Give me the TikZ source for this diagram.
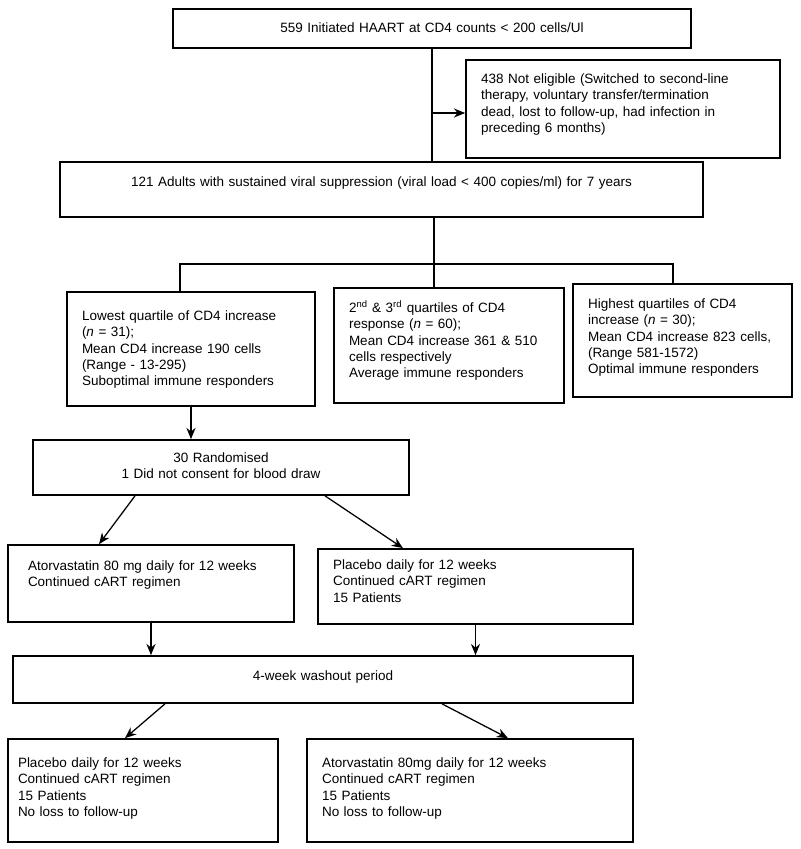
\documentclass[tikz,border=0pt]{standalone}
\usepackage{fontspec}
\setmainfont{Liberation Sans}
\usetikzlibrary{arrows.meta}
\begin{document}
\begin{tikzpicture}[
    box/.style={draw=black,line width=1.2pt,inner xsep=0.375cm,inner ysep=0pt,align=left,font=\fontsize{9.6}{11.6}\selectfont},
    >={Stealth[length=8pt,width=6.5pt]},
    line width=0.9pt]
    \useasboundingbox (0,0) rectangle (20,-21.225);
    \node[box,align=center,text width=12.2cm,text height=0.5875cm,text depth=0.3875cm] (initiated) at (10.8,-0.7125) {559 Initiated HAART at CD4 counts < 200 cells/Ul};
    \node[box,text width=7.1cm,text height=0.5875cm,text depth=1.8625cm] (ineligible) at (15.575,-2.725) {438 Not eligible (Switched to second-line\\therapy, voluntary transfer/termination\\dead, lost to follow-up, had infection in\\preceding 6 months)};
    \node[box,align=center,text width=15.325cm,text height=0.6125cm,text depth=0.7625cm] (adults) at (9.5375,-4.7375) {121 Adults with sustained viral suppression (viral load < 400 copies/ml) for 7 years};
    \node[box,text width=5.45cm,text height=0.7125cm,text depth=2.1375cm] (lowest) at (4.775,-8.725) {Lowest quartile of CD4 increase\\(\textit{n} = 31);\\Mean CD4 increase 190 cells\\(Range - 13-295)\\Suboptimal immune responders};
    \node[box,text width=5cm,text height=0.6125cm,text depth=2.2625cm] (average) at (11.225,-8.6375) {2\textsuperscript{nd} \& 3\textsuperscript{rd} quartiles of CD4\\response (\textit{n} = 60);\\Mean CD4 increase 361 \& 510\\cells respectively\\Average immune responders};
    \node[box,text width=4.725cm,text height=0.6125cm,text depth=2.2125cm] (highest) at (17.0625,-8.5125) {Highest quartiles of CD4\\increase (\textit{n} = 30);\\Mean CD4 increase 823 cells,\\(Range 581-1572)\\Optimal immune responders};
    \node[box,align=center,text width=8.65cm,text height=0.5625cm,text depth=0.8125cm] (randomised) at (5.525,-11.6875) {30 Randomised\\1 Did not consent for blood draw};
    \node[box,inner xsep=0.5cm,text width=6.15cm,text height=0.6375cm,text depth=1.2875cm] (atorvafirst) at (3.775,-14.5875) {Atorvastatin 80 mg daily for 12 weeks\\Continued cART regimen};
    \node[box,text width=7.125cm,text height=0.5125cm,text depth=1.3625cm] (placebofirst) at (11.8875,-14.6625) {Placebo daily for 12 weeks\\Continued cART regimen\\15 Patients};
    \node[box,align=center,text width=14.75cm,text height=0.6125cm,text depth=0.5625cm] (washout) at (8.075,-16.9875) {4-week washout period};
    \node[box,inner xsep=0.25cm,text width=6.25cm,text height=0.7125cm,text depth=1.8625cm] (placebosecond) at (3.575,-19.7625) {Placebo daily for 12 weeks\\Continued cART regimen\\15 Patients\\No loss to follow-up};
    \node[box,text width=7.4cm,text height=0.7125cm,text depth=1.8625cm] (atorvasecond) at (11.75,-19.7625) {Atorvastatin 80mg daily for 12 weeks\\Continued cART regimen\\15 Patients\\No loss to follow-up};
    \coordinate (bus) at (10.85,-6.6);
    \coordinate (busleft) at (4.5,-6.6);
    \coordinate (busright) at (16.825,-6.6);
    \draw (initiated.south) -- (initiated.south |- adults.north);
    \path [->]([yshift=-0.1cm]ineligible.west -| initiated.south) edge ([yshift=-0.1cm]ineligible.west);
    \draw (adults.south -| bus) -- (average.north -| bus);
    \draw (lowest.north -| busleft) -- (busleft) -- (busright) -- (highest.north -| busright);
    \path [->](lowest.south) edge (lowest.south |- randomised.north);
    \path [->]([xshift=-2.15cm]randomised.south) edge ([xshift=-1.3cm]atorvafirst.north);
    \path [->]([xshift=2.6cm]randomised.south) edge ([xshift=-1.8125cm]placebofirst.north);
    \path [->](atorvafirst.south) edge (atorvafirst.south |- washout.north);
    \path [->](placebofirst.south) edge (placebofirst.south |- washout.north);
    \path [->]([xshift=-3.95cm]washout.south) edge ([xshift=-0.45cm]placebosecond.north);
    \path [->]([xshift=2.975cm]washout.south) edge ([xshift=0.95cm]atorvasecond.north);
\end{tikzpicture}
\end{document}
